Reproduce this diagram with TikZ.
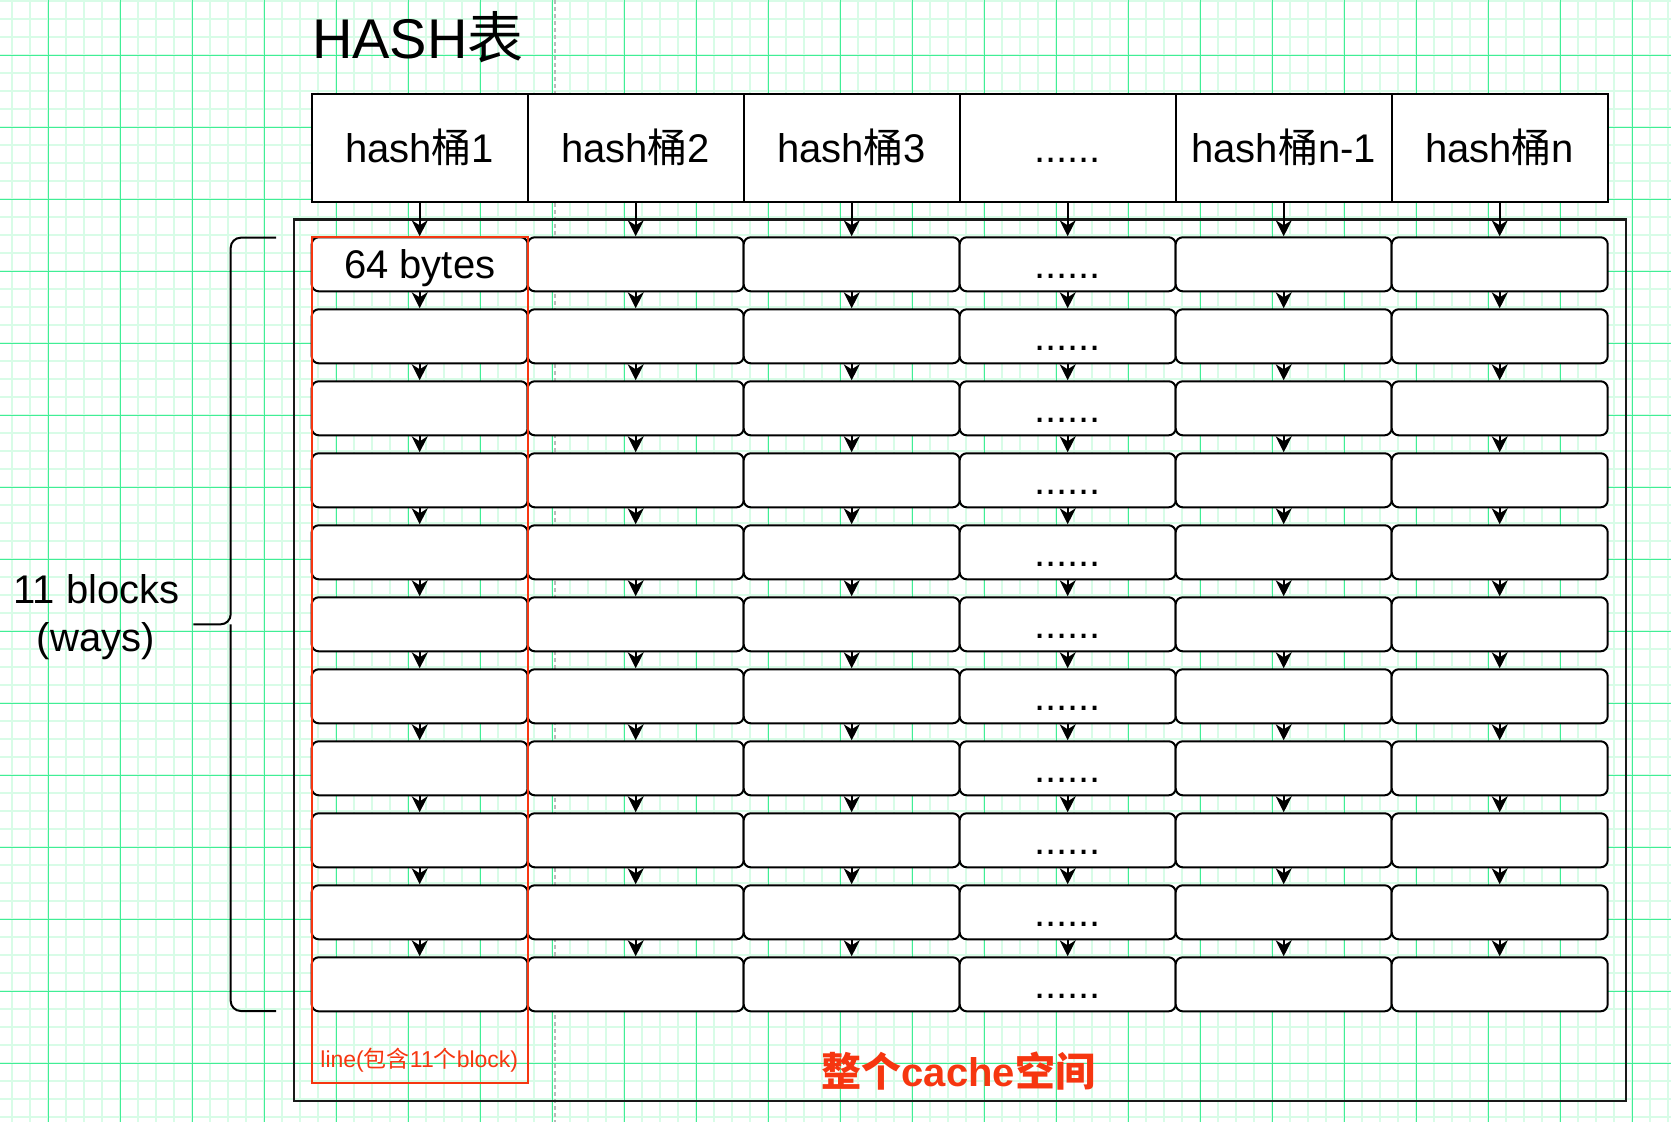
\documentclass[tikz,border=0pt]{standalone}
\usepackage{fontspec}
\setmainfont{Liberation Sans}
\newfontfamily\cjk{Noto Sans CJK SC}
\usetikzlibrary{arrows.meta}
\definecolor{gridminor}{RGB}{216,252,231}
\definecolor{gridmajor}{RGB}{64,238,150}
\definecolor{redline}{RGB}{246,54,16}
\newcommand\tong{{\cjk 桶}}
\begin{document}
\begin{tikzpicture}[x=1pt,y=-1pt,
  cell/.style={draw=black, line width=2pt, fill=white, rounded corners=7pt,
    minimum width=216pt, minimum height=54pt, inner sep=0pt,
    font=\fontsize{40}{48}\selectfont, text height=28.6pt, text depth=0pt},
  bucket/.style={draw=black, line width=2pt, fill=white,
    minimum width=216pt, minimum height=107.7pt, inner sep=0pt,
    font=\fontsize{40}{48}\selectfont, text height=28.6pt, text depth=0pt},
  link/.style={line width=2pt, -{Stealth[length=16pt,width=16pt,inset=5pt]}},
  lbl/.style={inner sep=0pt, anchor=base}
]
\useasboundingbox (0,0) rectangle (1671,1122);
\fill[white] (0,0) rectangle (1671,1122);
% background grid
\foreach \x in {12.3,30.3,...,1671} \draw[gridminor, line width=1.8pt] (\x,0) -- (\x,1122);
\foreach \y in {1.3,19.3,...,1122} \draw[gridminor, line width=1.8pt] (0,\y) -- (1671,\y);
\foreach \x in {48.3,120.3,...,1671} \draw[gridmajor, line width=1pt] (\x,0) -- (\x,1122);
\foreach \y in {55.3,127.3,...,1122} \draw[gridmajor, line width=1pt] (0,\y) -- (1671,\y);
\draw[gray!55, line width=1.2pt, dash pattern=on 4pt off 3pt] (555,0) -- (555,1122);

% title
\node[inner sep=0pt, anchor=base west, font=\fontsize{56}{60}\selectfont] (title) at (312,58.3) {HASH{\cjk 表}};

% whole cache space
\node[draw=black!90, line width=2.4pt, minimum width=1331.7pt, minimum height=881.7pt, inner sep=0pt] (cache) at (959.85,660.15) {};

% hash buckets
\node[bucket] (b1) at (419.7,147.85) {hash\tong 1};
\node[bucket] (b2) at (635.7,147.85) {hash\tong 2};
\node[bucket] (b3) at (851.7,147.85) {hash\tong 3};
\node[bucket] (b4) at (1067.7,147.85) {......};
\node[bucket] (b5) at (1283.7,147.85) {hash\tong n-1};
\node[bucket] (b6) at (1499.7,147.85) {hash\tong n};

% blocks
\foreach \k in {0,...,10} {
  \foreach \j in {1,...,6} {
    \node[cell] (r\k-\j) at ({311.7+108+216*(\j-1)}, {264.3+72*\k})
      {\ifnum\j=4 ......\else\ifnum\k=0 \ifnum\j=1 64 bytes\fi\fi\fi};
  }
}

% arrows
\foreach \j in {1,...,6} {
  \draw[link] (b\j.south) -- (r0-\j.north);
  \foreach \k [evaluate=\k as \kn using int(\k+1)] in {0,...,9}
    \draw[link] (r\k-\j.south) -- (r\kn-\j.north);
}

% red "line" box
\node[draw=redline, line width=2pt, minimum width=216.6pt, minimum height=846pt, inner sep=0pt] (line) at (420,660.3) {};
\node[lbl, text=redline, font=\fontsize{23}{26}\selectfont] (linelabel) at (419.3,1067.3) {line({\cjk 包含}11{\cjk 个}block)};

% cache label
\node[lbl, text=redline, font=\bfseries\fontsize{40}{44}\selectfont] (cachelabel) at (958.3,1086) {{\cjk 整个}cache{\cjk 空间}};

% brace
\draw[line width=2pt, rounded corners=10pt] (276,237.7) -- (230.7,237.7) -- (230.7,624.3) -- (193.3,624.3);
\draw[line width=2pt, rounded corners=10pt] (276,1011) -- (230.7,1011) -- (230.7,624.3);

% ways label
\node[lbl, font=\fontsize{40}{48}\selectfont] (ways1) at (96.7,603.3) {11 blocks};
\node[lbl, font=\fontsize{40}{48}\selectfont] (ways2) at (95.8,651.7) {(ways)};
\end{tikzpicture}
\end{document}
